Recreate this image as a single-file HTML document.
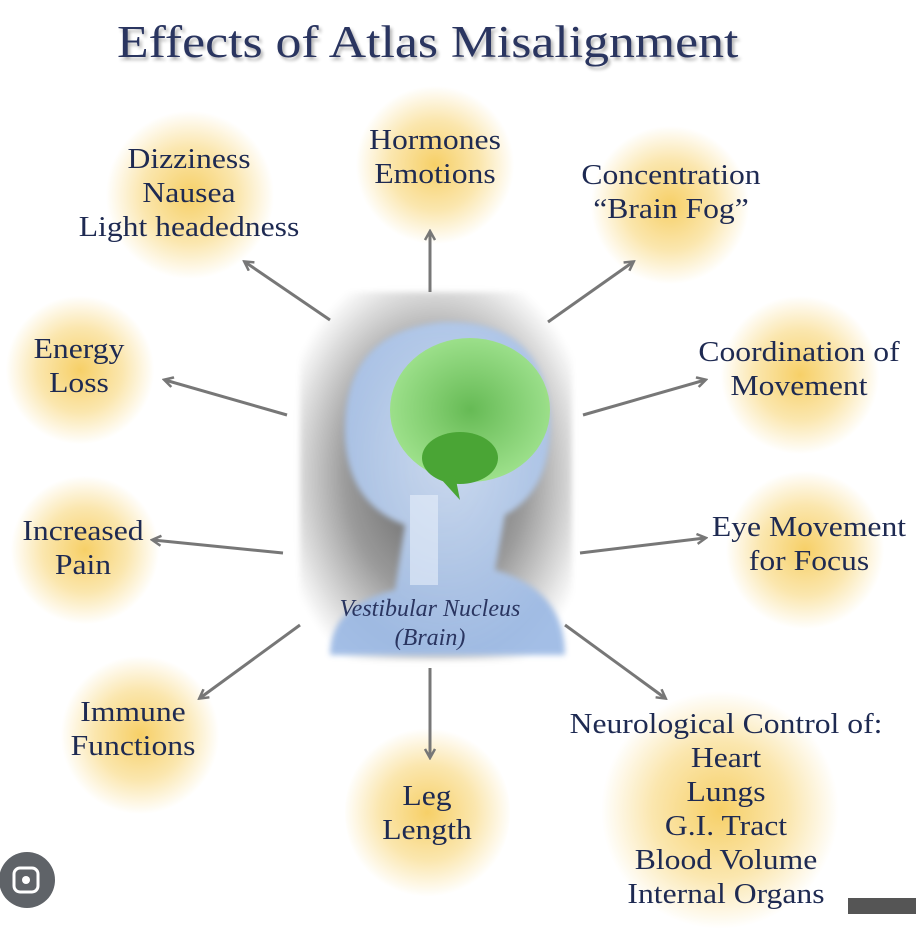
<!DOCTYPE html>
<html><head><meta charset="utf-8"><style>
body{margin:0;background:#fff;width:916px;height:914px;overflow:hidden;position:relative;font-family:"Liberation Serif",serif;color:#1e2a52}
.g{position:absolute;border-radius:50%;background:radial-gradient(circle,rgba(246,205,95,0.95) 0%,rgba(249,220,140,0.7) 40%,rgba(255,255,255,0) 70%)}
.t{position:absolute;text-align:center;font-size:28px;line-height:34px;white-space:nowrap;transform:translateX(-50%) scaleX(1.13)}
h1{position:absolute;left:117px;top:16px;margin:0;font-weight:normal;font-size:45px;color:#2a3560;text-shadow:2px 3px 3px rgba(0,0,0,0.3);white-space:nowrap;transform-origin:0 0;transform:scaleX(1.15)}
</style></head><body>
<h1>Effects of Atlas Misalignment</h1>
<div class="g" style="left:105px;top:110px;width:170px;height:170px"></div>
<div class="g" style="left:355px;top:85px;width:160px;height:160px"></div>
<div class="g" style="left:590px;top:125px;width:160px;height:160px"></div>
<div class="g" style="left:5px;top:295px;width:150px;height:150px"></div>
<div class="g" style="left:720px;top:295px;width:160px;height:160px"></div>
<div class="g" style="left:10px;top:475px;width:150px;height:150px"></div>
<div class="g" style="left:725px;top:470px;width:160px;height:160px"></div>
<div class="g" style="left:60px;top:655px;width:160px;height:160px"></div>
<div class="g" style="left:345px;top:725px;width:165px;height:175px"></div>
<div class="g" style="left:600px;top:690px;width:240px;height:240px"></div>

<div class="t" style="left:189px;top:143px">Dizziness<br>Nausea<br>Light headedness</div>
<div class="t" style="left:435px;top:124px">Hormones<br>Emotions</div>
<div class="t" style="left:671px;top:159px">Concentration<br>“Brain Fog”</div>
<div class="t" style="left:79px;top:333px">Energy<br>Loss</div>
<div class="t" style="left:799px;top:336px">Coordination of<br>Movement</div>
<div class="t" style="left:83px;top:515px">Increased<br>Pain</div>
<div class="t" style="left:809px;top:511px">Eye Movement<br>for Focus</div>
<div class="t" style="left:133px;top:696px">Immune<br>Functions</div>
<div class="t" style="left:427px;top:780px">Leg<br>Length</div>
<div class="t" style="left:726px;top:708px">Neurological Control of:<br>Heart<br>Lungs<br>G.I. Tract<br>Blood Volume<br>Internal Organs</div>

<svg width="916" height="914" style="position:absolute;left:0;top:0">
<defs>
<radialGradient id="bg" cx="50%" cy="50%" r="60%"><stop offset="0" stop-color="#5a5a5a"/><stop offset="0.55" stop-color="#9a9a9a"/><stop offset="1" stop-color="#fff"/></radialGradient>
<radialGradient id="head" cx="50%" cy="40%" r="60%"><stop offset="0" stop-color="#d8e8ff"/><stop offset="1" stop-color="#9ab8e4"/></radialGradient>
<radialGradient id="brain" cx="50%" cy="50%" r="55%"><stop offset="0" stop-color="#56b63a"/><stop offset="1" stop-color="#9ee880"/></radialGradient>
<filter id="bl"><feGaussianBlur stdDeviation="3"/></filter>
<marker id="a" markerWidth="12" markerHeight="12" refX="9" refY="6" orient="auto" markerUnits="userSpaceOnUse"><path d="M1,1 L10,6 L1,11" fill="none" stroke="#777" stroke-width="2.5"/></marker>
</defs>
<rect x="300" y="292" width="272" height="368" rx="30" fill="url(#bg)" filter="url(#bl)"/>
<path d="M330,655 Q330,605 395,590 L405,525 Q350,505 345,440 Q340,330 445,322 Q545,320 550,420 Q552,490 505,515 L495,570 Q565,590 565,655 Z" fill="url(#head)" opacity="0.9" filter="url(#bl)"/>
<ellipse cx="470" cy="410" rx="80" ry="72" fill="url(#brain)" opacity="0.85"/>
<ellipse cx="460" cy="458" rx="38" ry="26" fill="#4aa535"/>
<path d="M440,478 L460,500 L455,475Z" fill="#4aa535"/>
<rect x="410" y="495" width="28" height="90" fill="#e6eefa" opacity="0.6"/>
<text x="430" y="616" text-anchor="middle" font-family="Liberation Serif" font-style="italic" font-size="24" fill="#2a3560">Vestibular Nucleus</text>
<text x="430" y="645" text-anchor="middle" font-family="Liberation Serif" font-style="italic" font-size="24" fill="#2a3560">(Brain)</text>
<g stroke="#777" stroke-width="3" marker-end="url(#a)">
<line x1="330" y1="320" x2="245" y2="262"/>
<line x1="430" y1="292" x2="430" y2="232"/>
<line x1="548" y1="322" x2="633" y2="262"/>
<line x1="287" y1="415" x2="165" y2="380"/>
<line x1="583" y1="415" x2="705" y2="380"/>
<line x1="283" y1="553" x2="153" y2="540"/>
<line x1="580" y1="553" x2="705" y2="538"/>
<line x1="300" y1="625" x2="200" y2="698"/>
<line x1="430" y1="668" x2="430" y2="757"/>
<line x1="565" y1="625" x2="665" y2="698"/>
</g>
<circle cx="27" cy="880" r="28" fill="#5f6368"/>
<rect x="14" y="868" width="24" height="24" rx="6" fill="none" stroke="#fff" stroke-width="3"/>
<circle cx="26" cy="880" r="4" fill="#fff"/>
<rect x="848" y="898" width="68" height="16" fill="#555"/>
</svg>
</body></html>
